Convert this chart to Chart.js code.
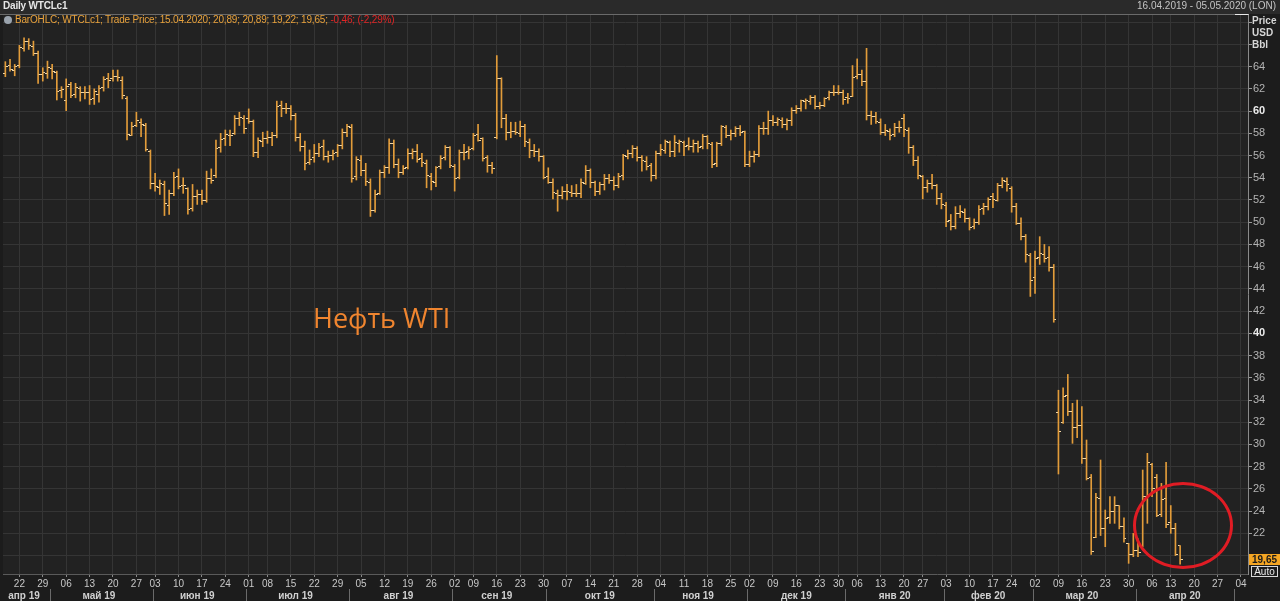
<!DOCTYPE html>
<html><head><meta charset="utf-8">
<script src="https://cdn.jsdelivr.net/npm/chart.js@4.4.1/dist/chart.umd.min.js"></script>
<style>
html,body{margin:0;padding:0;background:#1c1c1c;width:1280px;height:601px;overflow:hidden;font-family:"Liberation Sans",Arial,sans-serif;}
#wrap{position:relative;width:1280px;height:601px;}
#c{position:absolute;left:0;top:0;}
.t{position:absolute;white-space:nowrap;line-height:1;}
#hdr{position:absolute;left:0;top:0;width:1280px;height:14px;background:#2a2a2a;}
</style></head><body>
<div id="wrap">
<div id="hdr"></div>
<canvas id="c" width="1280" height="601"></canvas>
<div class="t" style="left:3px;top:1px;font-size:10px;font-weight:bold;letter-spacing:-0.2px;color:#e6e6e6;">Daily WTCLc1</div>
<div class="t" style="right:4px;top:1px;font-size:10px;color:#c4c4c4;">16.04.2019 - 05.05.2020 (LON)</div>
<div class="t" style="left:4px;top:15px;font-size:10px;letter-spacing:-0.18px;color:#e9a23b;"><span style="display:inline-block;width:8px;height:8px;border-radius:50%;background:#9aa3ad;margin-right:3px;vertical-align:-1px;"></span>BarOHLC; WTCLc1; Trade Price; 15.04.2020; 20,89; 20,89; 19,22; 19,65; <span style="color:#e02525;">-0,46; (-2,29%)</span></div>
<div class="t" style="left:1252px;top:16px;font-size:10px;font-weight:bold;color:#d6d6d6;">Price</div>
<div class="t" style="left:1252px;top:28px;font-size:10px;font-weight:bold;color:#d6d6d6;">USD</div>
<div class="t" style="left:1252px;top:40px;font-size:10px;font-weight:bold;color:#d6d6d6;">Bbl</div>
<div class="t" style="left:313px;top:304px;font-size:27px;font-family:'Open Sans',sans-serif;color:#f0852f;">Нефть WTI</div>
<div style="position:absolute;left:1133px;top:482px;width:94px;height:81px;border:3px solid #e01c24;border-radius:50%;"></div>
<div class="t" style="left:1249px;top:554px;width:31px;height:11px;background:#f5a623;color:#1a1a1a;font-size:10px;font-weight:bold;text-align:center;line-height:11px;">19,65</div>
<div class="t" style="left:1251px;top:566px;width:25px;height:9px;border:1px solid #d8d8d8;color:#e8e8e8;font-size:10px;text-align:center;line-height:9px;">Auto</div>
</div>
<script>
// ---- categories: trading days per month ----
const tradingDays = {
  '2019-04':[16,17,18,22,23,24,25,26,29,30],
  '2019-05':[1,2,3,6,7,8,9,10,13,14,15,16,17,20,21,22,23,24,28,29,30,31],
  '2019-06':[3,4,5,6,7,10,11,12,13,14,17,18,19,20,21,24,25,26,27,28],
  '2019-07':[1,2,3,5,8,9,10,11,12,15,16,17,18,19,22,23,24,25,26,29,30,31],
  '2019-08':[1,2,5,6,7,8,9,12,13,14,15,16,19,20,21,22,23,26,27,28,29,30],
  '2019-09':[3,4,5,6,9,10,11,12,13,16,17,18,19,20,23,24,25,26,27,30],
  '2019-10':[1,2,3,4,7,8,9,10,11,14,15,16,17,18,21,22,23,24,25,28,29,30,31],
  '2019-11':[1,4,5,6,7,8,11,12,13,14,15,18,19,20,21,22,25,26,27,29],
  '2019-12':[2,3,4,5,6,9,10,11,12,13,16,17,18,19,20,23,24,26,27,30,31],
  '2020-01':[2,3,6,7,8,9,10,13,14,15,16,17,21,22,23,24,27,28,29,30,31],
  '2020-02':[3,4,5,6,7,10,11,12,13,14,18,19,20,21,24,25,26,27,28],
  '2020-03':[2,3,4,5,6,9,10,11,12,13,16,17,18,19,20,23,24,25,26,27,30,31],
  '2020-04':[1,2,3,6,7,8,9,13,14,15,16,17,20,21,22,23,24,27,28,29,30],
  '2020-05':[1,4,5]
};
const monthNames = ['янв','фев','мар','апр','май','июн','июл','авг','сен','окт','ноя','дек'];
const yTickValues = [20,22,24,26,28,30,32,34,36,38,40,42,44,46,48,50,52,54,56,58,60,62,64,66,68];

// ---- OHLC series (16.04.2019 .. 15.04.2020) ----
const opens = [
63.40,64.10,63.70,64.10,65.60,66.30,65.80,65.20,63.30,63.40,63.80,63.50,61.90,61.00,62.40,61.50,62.00,61.70,61.70,61.10,
61.50,62.10,62.90,62.90,63.10,62.80,61.10,57.80,58.70,59.00,58.70,56.40,53.50,53.10,53.40,51.50,52.60,54.10,53.30,53.00,
51.20,52.30,52.50,52.00,53.90,54.20,56.70,57.50,57.80,58.00,59.30,59.30,59.30,59.10,56.30,57.30,57.50,57.60,57.80,60.50,
60.20,60.20,59.60,57.60,56.80,55.40,55.80,56.20,56.80,55.90,56.00,56.30,56.90,58.10,58.50,54.10,55.60,54.70,53.60,51.10,
52.60,54.50,54.90,57.10,55.20,54.50,54.90,56.20,56.40,55.70,55.30,54.10,53.60,55.00,55.80,56.70,55.00,54.00,56.30,56.40,
56.60,57.90,57.50,55.80,55.10,57.60,62.90,59.30,58.10,58.20,58.00,58.60,57.20,56.50,56.40,55.90,54.10,53.60,52.60,52.40,
52.80,52.70,52.60,52.60,53.50,54.70,53.60,52.80,53.40,53.90,53.80,53.30,54.20,55.90,56.20,56.60,55.80,55.50,55.10,54.20,
56.20,56.50,57.20,56.40,57.10,57.20,56.90,56.80,57.10,56.80,57.70,57.00,55.30,57.10,58.50,57.80,58.00,58.40,58.20,55.20,
55.90,56.10,58.40,58.40,59.20,59.00,59.20,58.80,59.20,60.10,60.20,60.90,60.90,61.20,60.40,60.50,61.20,61.70,61.70,61.70,
61.20,61.30,63.10,63.30,62.70,59.60,59.50,59.00,58.10,58.20,57.90,58.50,59.30,58.30,56.70,55.60,54.10,53.10,53.50,53.30,
52.10,51.50,50.20,49.60,50.80,50.90,50.30,49.60,50.00,51.20,51.40,52.30,52.00,53.30,53.70,53.00,51.40,49.90,48.70,47.00,
45.00,46.80,47.10,46.80,45.90,32.87,32.00,34.40,33.00,31.50,31.70,28.70,27.00,21.60,25.10,22.40,23.40,24.00,24.50,22.60,
21.10,20.10,20.50,20.80,25.30,28.20,27.00,23.70,25.10,23.00,22.40,20.89];
const highs = [
64.45,64.66,64.20,65.92,66.60,66.52,66.30,65.40,63.90,64.50,64.20,63.60,62.20,62.90,62.60,62.50,62.20,62.20,62.30,62.00,
62.30,63.10,63.40,63.70,63.70,63.10,61.30,59.00,59.90,59.30,58.90,56.50,54.40,53.80,53.70,52.90,54.50,54.80,54.00,53.10,
53.40,52.90,52.90,54.60,54.80,57.40,58.00,58.30,58.30,59.60,59.90,59.60,60.20,59.20,57.60,58.10,58.20,58.10,60.90,60.90,
60.70,60.50,59.80,58.00,57.30,56.50,57.00,57.10,57.40,56.40,56.50,57.00,58.40,58.80,58.80,55.90,56.00,55.30,53.90,52.90,
54.70,55.10,57.50,57.40,55.70,55.10,56.60,56.60,57.00,56.20,55.60,54.40,55.00,56.00,56.90,56.80,55.20,56.50,57.00,56.80,
58.00,58.80,57.60,56.00,55.40,65.00,63.00,59.70,59.00,59.00,59.10,58.80,57.50,57.00,56.60,56.00,54.90,53.90,52.90,53.20,
53.40,53.30,53.40,53.90,55.10,54.80,53.70,53.60,54.30,54.30,54.10,54.40,56.10,56.50,56.90,56.80,56.00,55.90,55.30,56.40,
57.00,57.40,57.30,57.80,57.40,57.30,57.60,57.40,57.30,57.90,57.80,57.20,57.20,58.70,58.70,58.30,58.60,58.70,58.20,56.40,
56.40,58.70,59.00,60.00,59.60,59.40,59.40,59.30,60.30,60.50,61.00,61.10,61.40,61.40,60.80,61.20,61.80,62.30,62.30,61.90,
61.60,64.10,64.70,63.70,65.65,60.00,59.90,59.30,58.80,58.40,58.90,59.10,59.70,58.50,56.90,55.90,54.20,53.80,54.30,53.40,
52.60,51.80,50.70,51.40,51.50,51.20,50.40,50.30,51.50,51.70,52.20,52.60,53.50,54.00,54.00,53.20,51.70,50.40,48.90,47.20,
47.40,48.70,48.00,47.80,46.20,34.88,35.10,36.30,33.70,34.00,33.40,30.40,27.30,25.60,28.60,24.10,25.30,25.30,24.50,23.40,
21.10,22.00,21.50,27.70,29.20,28.30,27.30,26.50,28.40,24.50,22.90,20.89];
const lows = [
63.10,63.60,63.18,63.90,65.40,65.55,65.00,62.50,62.70,62.95,62.90,61.00,61.20,60.04,61.20,61.20,60.90,61.10,60.60,60.60,
60.80,61.80,62.10,62.70,62.70,61.10,57.40,57.80,58.60,57.70,56.40,53.00,52.80,52.50,50.60,50.70,52.40,53.00,52.60,50.72,
51.00,51.60,51.60,51.80,53.50,54.00,56.30,56.90,56.90,57.90,58.70,58.00,58.90,55.90,55.80,56.80,57.10,56.90,57.60,59.50,
59.80,59.20,57.30,56.40,54.70,55.20,55.40,55.90,55.60,55.40,55.60,55.90,56.60,57.70,53.60,53.80,54.20,53.30,50.52,50.90,
52.50,54.00,54.40,54.90,54.00,54.30,54.80,55.70,55.40,55.00,53.10,52.90,53.20,54.80,55.60,54.90,52.80,53.90,55.60,55.70,
56.50,57.30,55.50,54.50,54.40,57.50,58.50,57.40,57.60,57.90,57.70,56.80,55.80,55.90,55.50,53.90,53.50,52.10,50.99,52.10,
52.00,52.30,52.30,52.20,53.40,53.10,52.40,52.50,52.90,53.50,52.90,53.10,53.80,55.70,55.80,55.50,54.60,54.70,53.70,53.90,
56.00,56.20,55.90,55.90,56.30,56.00,56.50,56.30,56.30,56.60,56.60,54.90,55.00,56.90,57.60,57.40,57.70,57.80,55.00,55.00,
55.40,55.90,57.90,57.90,58.70,58.70,58.50,58.30,58.70,59.80,60.00,60.20,60.60,60.20,60.20,60.40,61.00,61.40,61.50,60.60,
60.70,61.30,62.90,62.30,59.20,58.80,58.90,57.90,57.80,57.40,57.70,58.10,57.70,56.20,55.10,53.90,52.10,52.70,53.00,51.60,
51.20,49.60,49.30,49.40,50.40,50.00,49.30,49.40,49.80,50.70,51.10,51.30,51.90,53.10,52.80,50.90,49.80,48.40,46.40,43.32,
43.60,46.20,46.40,45.60,41.00,27.34,31.90,32.60,30.10,30.60,28.30,26.80,20.10,21.60,21.80,20.80,22.90,22.90,22.40,21.20,
19.30,19.90,19.90,20.80,22.90,25.30,23.50,23.50,22.50,22.00,20.00,19.22];
const closes = [
64.05,63.76,64.00,65.70,66.30,65.89,65.21,63.30,63.50,63.91,63.60,61.81,61.94,62.25,61.40,62.12,61.70,61.66,61.04,61.78,
62.02,62.87,62.76,63.10,62.99,61.42,57.91,58.63,59.14,58.81,56.59,53.50,53.25,53.48,51.68,52.59,53.99,53.26,53.27,51.14,
52.28,52.51,51.93,53.90,53.76,56.65,57.43,57.90,57.83,59.38,59.43,58.47,59.09,56.25,57.34,57.51,57.66,57.83,60.43,60.20,
60.21,59.58,57.62,56.78,55.30,55.63,56.22,56.77,55.88,56.02,56.20,56.87,58.05,58.58,53.95,55.66,54.69,53.63,51.09,52.54,
54.50,54.93,57.10,55.23,54.47,54.87,56.21,56.34,55.68,55.35,54.17,53.64,54.93,55.78,56.71,55.10,53.94,56.26,56.30,56.52,
57.85,57.40,55.75,55.09,54.85,62.90,59.34,58.11,58.13,58.09,58.64,57.29,56.49,56.41,55.91,54.07,53.62,52.64,52.45,52.81,
52.75,52.63,52.59,53.55,54.70,53.59,52.81,53.36,53.93,53.78,53.31,54.16,55.97,56.23,56.66,55.81,55.54,55.06,54.18,56.20,
56.54,57.23,56.35,57.15,57.24,56.86,56.80,57.12,56.77,57.72,57.05,55.21,57.11,58.58,57.77,58.01,58.41,58.11,55.17,55.96,
56.10,58.43,58.43,59.20,59.02,59.24,58.76,59.18,60.07,60.21,60.94,60.93,61.22,60.44,60.52,61.11,61.68,61.72,61.68,61.06,
61.18,63.05,63.27,62.70,59.61,59.56,59.04,58.08,58.23,57.81,58.52,58.54,58.34,56.74,55.59,54.19,53.14,53.48,53.33,52.14,
51.56,50.11,49.61,50.75,50.95,50.32,49.57,49.94,51.17,51.42,52.05,52.05,53.29,53.78,53.38,51.43,49.90,48.73,47.09,44.76,
46.75,47.18,46.78,45.90,41.28,31.13,34.36,32.98,31.50,31.73,28.70,26.95,20.37,25.22,22.43,23.36,24.01,24.49,22.60,21.51,
20.09,20.48,20.31,25.32,28.34,26.08,23.63,25.09,22.76,22.41,20.11,19.65];

// ---- derived structures ----
const dates = [];
Object.keys(tradingDays).forEach(ym => {
  const [y, m] = ym.split('-').map(Number);
  tradingDays[ym].forEach(d => dates.push(new Date(Date.UTC(y, m - 1, d))));
});
const labels = dates.map(d => d.toISOString().slice(0, 10));
function mondayOf(d){ const dd = new Date(d); const wd = (dd.getUTCDay() + 6) % 7; dd.setUTCDate(dd.getUTCDate() - wd); return dd; }
const weekLabel = dates.map((d, i) => {
  if (i === 0) return '';
  const a = mondayOf(d).getTime(), b = mondayOf(dates[i - 1]).getTime();
  if (a === b) return '';
  return String(mondayOf(d).getUTCDate()).padStart(2, '0');
});
const monthStart = dates.map((d, i) => i > 0 && d.getUTCMonth() !== dates[i - 1].getUTCMonth());
const monthLabel = dates.map(() => '');
(function(){
  let s = 0;
  for (let i = 1; i <= dates.length; i++) {
    if (i === dates.length || monthStart[i]) {
      const n = i - s;
      if (n >= 5) {
        const d = dates[s];
        monthLabel[s + Math.floor((n - 1) / 2)] = monthNames[d.getUTCMonth()] + ' ' + String(d.getUTCFullYear()).slice(2);
      }
      s = i;
    }
  }
})();
const ranges = lows.map((l, i) => [l, highs[i]]);

const BAR = '#e29c3a';
const TICK = '#f2d6a4';
const GRID = '#353535';
function tickImg(side){
  const c = document.createElement('canvas'); c.width = 5; c.height = 1;
  const g = c.getContext('2d'); g.fillStyle = TICK;
  if (side === 'L') g.fillRect(0, 0, 2, 1); else g.fillRect(3, 0, 2, 1);
  return c;
}
const openImg = tickImg('L'), closeImg = tickImg('R');

const bgPlugin = {
  id: 'bg',
  beforeDraw(ch){
    const {ctx, chartArea: a} = ch;
    ctx.save();
    ctx.fillStyle = '#222222';
    ctx.fillRect(a.left, a.top, a.right - a.left, a.bottom - a.top);
    ctx.restore();
  },
  afterDraw(ch){
    const {ctx, chartArea: a} = ch;
    const x2 = ch.scales.x2, x = ch.scales.x;
    ctx.save();
    ctx.strokeStyle = '#6a6a6a'; ctx.lineWidth = 1;
    ctx.beginPath();
    ctx.moveTo(0, a.top + 0.5); ctx.lineTo(a.right, a.top + 0.5);
    for (let i = 1; i < dates.length; i++) {
      if (!monthStart[i]) continue;
      const px = Math.round((x.getPixelForValue(i - 1) + x.getPixelForValue(i)) / 2) + 0.5;
      ctx.moveTo(px, x2.top); ctx.lineTo(px, x2.bottom);
    }
    ctx.stroke();
    ctx.strokeStyle = '#e8e8e8';
    ctx.beginPath(); ctx.moveTo(a.right - 13, a.top + 0.5); ctx.lineTo(a.right + 0.5, a.top + 0.5); ctx.stroke();
    ctx.restore();
  }
};

new Chart(document.getElementById('c'), {
  data: {
    labels: labels,
    datasets: [
      {type: 'bar', data: ranges, backgroundColor: BAR, borderWidth: 0, barThickness: 1, grouped: false, xAxisID: 'x', yAxisID: 'y', order: 3},
      {type: 'line', data: opens, showLine: false, pointStyle: openImg, pointRadius: 3, pointHoverRadius: 3, borderWidth: 0, xAxisID: 'x', yAxisID: 'y', order: 1},
      {type: 'line', data: closes, showLine: false, pointStyle: closeImg, pointRadius: 3, pointHoverRadius: 3, borderWidth: 0, xAxisID: 'x', yAxisID: 'y', order: 2}
    ]
  },
  options: {
    responsive: false, animation: false, devicePixelRatio: 1,
    layout: {padding: {top: 14, left: 0, right: 0, bottom: 0}},
    plugins: {legend: {display: false}, tooltip: {enabled: false}},
    events: [],
    scales: {
      x: {
        type: 'category', position: 'bottom', offset: true,
        grid: {offset: false, color: c => weekLabel[c.index] ? GRID : 'transparent', tickColor: c => weekLabel[c.index] ? '#8a8a8a' : 'transparent', tickLength: 3, lineWidth: 1},
        border: {display: true, color: '#5a5a5a'},
        ticks: {autoSkip: false, maxRotation: 0, minRotation: 0, padding: 1, color: '#c8c8c8', font: {size: 10, family: '"Liberation Sans", Arial'},
          callback: (v, i) => weekLabel[i]},
        afterFit: s => { s.height = 15; }
      },
      x2: {
        type: 'category', position: 'bottom', offset: true,
        grid: {display: false, drawTicks: false}, border: {display: false},
        ticks: {autoSkip: false, maxRotation: 0, minRotation: 0, padding: 1, color: '#d0d0d0', font: {size: 10, weight: 'bold', family: '"Liberation Sans", Arial'},
          callback: (v, i) => monthLabel[i]},
        afterFit: s => { s.height = 12; }
      },
      y: {
        type: 'linear', position: 'right', min: 18.34, max: 68.74,
        afterBuildTicks: s => { s.ticks = yTickValues.map(v => ({value: v})); },
        grid: {color: GRID, tickColor: '#9a9a9a', tickLength: 4},
        border: {display: true, color: '#8a8a8a'},
        ticks: {padding: 1, autoSkip: false,
          color: c => (c.tick && c.tick.value % 20 === 0) ? '#ececec' : '#b4b4b4',
          font: c => ({size: 11, family: '"Liberation Sans", Arial', weight: (c.tick && c.tick.value % 20 === 0) ? 'bold' : 'normal'}),
          callback: v => (v >= 22 && v <= 64) ? String(v) : ''},
        afterFit: s => { s.width = 32; }
      }
    }
  },
  plugins: [bgPlugin]
});
</script>
</body></html>
